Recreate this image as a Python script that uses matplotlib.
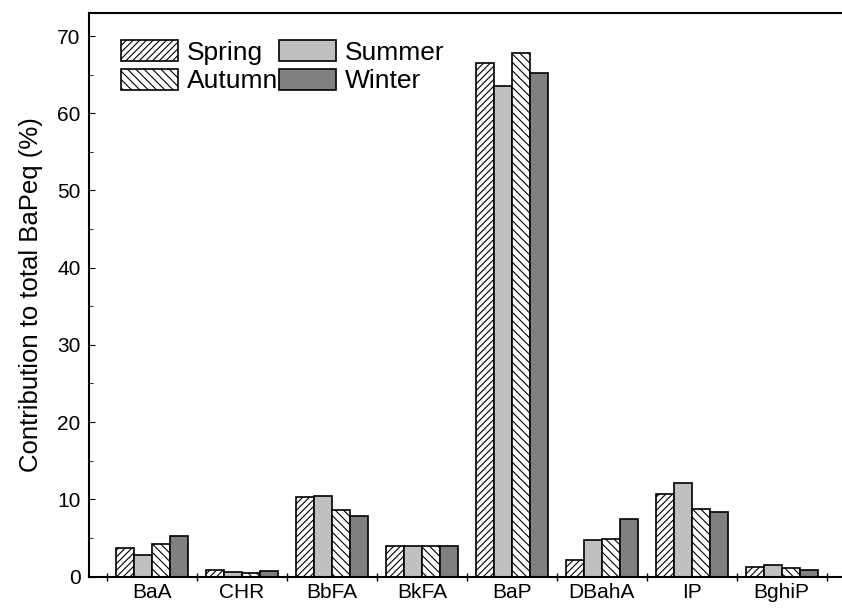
import numpy as np
import matplotlib.pyplot as plt
from matplotlib.ticker import MultipleLocator, FixedLocator

plt.rcParams['font.family'] = ['Liberation Sans', 'DejaVu Sans']
plt.rcParams['hatch.linewidth'] = 0.8

compounds = ['BaA', 'CHR', 'BbFA', 'BkFA', 'BaP', 'DBahA', 'IP', 'BghiP']
seasons = ['Spring', 'Summer', 'Autumn', 'Winter']

spring = [3.7, 0.8, 10.3, 4.0, 66.5, 2.2, 10.7, 1.2]
summer = [2.8, 0.55, 10.45, 4.0, 63.5, 4.7, 12.1, 1.45]
autumn = [4.15, 0.5, 8.55, 4.0, 67.8, 4.9, 8.7, 1.1]
winter = [5.3, 0.75, 7.85, 4.0, 65.2, 7.5, 8.3, 0.85]

fig = plt.figure(figsize=(8.42, 6.12), dpi=100)
ax = fig.add_axes([0.1057, 0.058, 0.8943, 0.921])

x = np.arange(len(compounds))
w = 0.2
styles = [
    dict(facecolor='white', hatch='/////'),
    dict(facecolor='#c0c0c0'),
    dict(facecolor='white', hatch='\\\\\\\\'),
    dict(facecolor='#808080'),
]
for i, (vals, name) in enumerate(zip([spring, summer, autumn, winter], seasons)):
    ax.bar(x + (i - 1.5) * w, vals, w, edgecolor='black', linewidth=1.2,
           label=name, **styles[i])

ax.set_xlim(-0.7, 7.67)
ax.set_ylim(0, 73)
ax.yaxis.set_major_locator(MultipleLocator(10))
ax.yaxis.set_minor_locator(MultipleLocator(5))
ax.set_xticks(x)
ax.set_xticklabels(compounds)
ax.xaxis.set_minor_locator(FixedLocator(np.arange(-0.5, 8, 1)))
ax.tick_params(axis='x', which='major', length=0, pad=5, labelsize=15)
ax.tick_params(axis='x', which='minor', direction='inout', length=6, width=1)
ax.tick_params(axis='y', which='both', direction='in', labelsize=15, pad=6)
ax.tick_params(axis='y', which='major', length=4)
ax.tick_params(axis='y', which='minor', length=3)

ax.spines['right'].set_visible(False)
for s in ['left', 'top', 'bottom']:
    ax.spines[s].set_linewidth(1.5)

ax.set_ylabel('Contribution to total BaPeq (%)', fontsize=18.5, labelpad=10)

handles, labels = ax.get_legend_handles_labels()
order = [0, 2, 1, 3]
ax.legend([handles[k] for k in order], [labels[k] for k in order],
          ncol=2, loc='upper left', bbox_to_anchor=(0.0425, 0.952),
          frameon=False, fontsize=19, borderpad=0, borderaxespad=0,
          handlelength=2.15, handleheight=0.86, handletextpad=0.34,
          columnspacing=0.05, labelspacing=0.15)

fig.savefig('out.png', dpi=100)
